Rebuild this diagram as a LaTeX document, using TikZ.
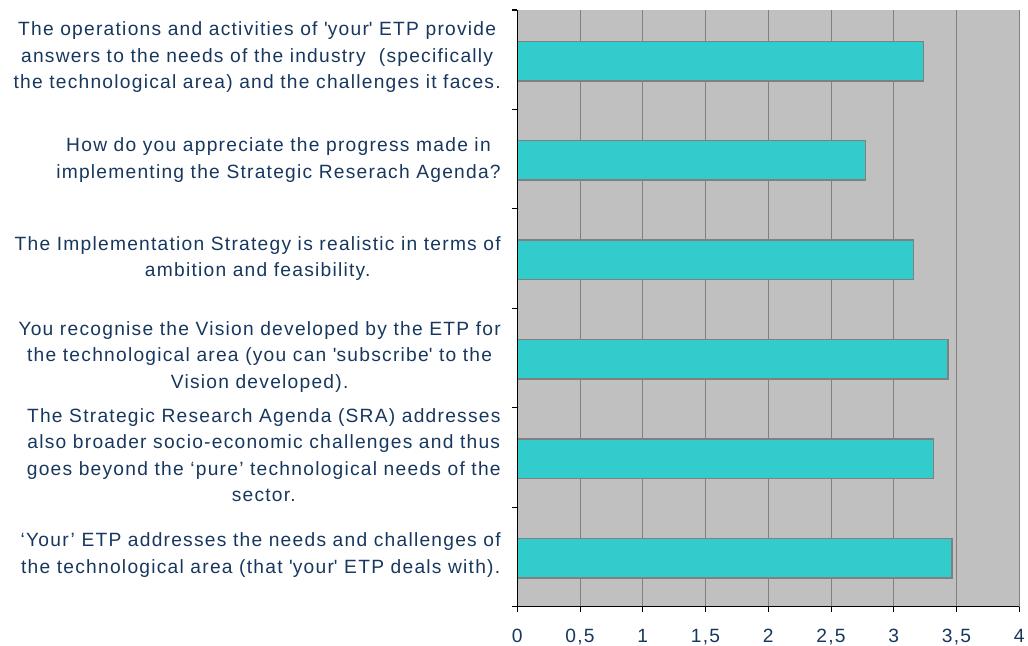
\documentclass[tikz,border=0pt]{standalone}
\usepackage{fontspec}
\setmainfont{Liberation Sans}[LetterSpace=6.5]
\usepackage{xcolor}
\usepackage{tikz}

\definecolor{plotgray}{RGB}{192,192,192}
\definecolor{gridgray}{RGB}{128,128,128}
\definecolor{barteal}{RGB}{51,204,204}
\definecolor{labelblue}{RGB}{23,55,94}

\newcommand{\sq}{\textquotesingle}

\begin{document}
\begin{tikzpicture}[
  x=0.75pt, y=-0.75pt,
  bar/.style={draw=gridgray,line width=1.1pt,fill=barteal},
  grid line/.style={draw=gridgray,line width=0.8pt},
  axis line/.style={draw=black,line width=0.8pt},
  question/.style={anchor=east,align=center,text=labelblue,inner sep=0pt,
    font=\fontsize{14.4}{19.9}\selectfont},
  tick label/.style={anchor=base,text=labelblue,inner sep=0pt,
    font=\fontsize{14.4}{16}\selectfont}
  ]

\useasboundingbox (0,0) rectangle (1028,646);

% plot area
\fill[plotgray] (517.3,10) rectangle (1019.3,606.7);
\foreach \v in {0.5,1,...,4}
  \draw[grid line] ({517.3+125.5*\v},10) -- ({517.3+125.5*\v},606.7);

% bars
\foreach \top/\val in {41.3/3.238, 140.7/2.776, 240/3.159, 339.3/3.432, 439/3.318, 538.7/3.464}
  \draw[bar] (517.3,\top) rectangle ({517.3+125.5*\val},\top+39.5);

% axes
\draw[axis line] (517.3,10) -- (517.3,606.7) -- (1019.3,606.7);
\foreach \k in {0,...,6}
  \draw[axis line] (512,10+99.45*\k) -- (517.3,10+99.45*\k);
\foreach \v in {0,0.5,...,4}
  \draw[axis line] ({517.3+125.5*\v},606.7) -- ({517.3+125.5*\v},612);

% value labels
\foreach \v/\lab [count=\i] in {0/0, 0.5/{0,5}, 1/1, 1.5/{1,5}, 2/2, 2.5/{2,5}, 3/3, 3.5/{3,5}, 4/4}
  \node[tick label] (t\i) at ({517.3+125.5*\v},642.5) {\lab};

% questions
\node[question] (q1) at (501,57.5) {The operations and activities of \sq your\sq\ ETP provide\\
  answers to the needs of the industry \ (specifically\\
  the technological area) and the challenges it faces.};
\node[question] (q2) at (501,160) {How do you appreciate the progress made in\\
  implementing the Strategic Reserach Agenda?};
\node[question] (q3) at (501,258.5) {The Implementation Strategy is realistic in terms of\\
  ambition and feasibility.};
\node[question] (q4) at (501,357) {You recognise the Vision developed by the ETP for\\
  the technological area (you can \sq subscribe\sq\ to the\\
  Vision developed).};
\node[question] (q5) at (501,455) {The Strategic Research Agenda (SRA) addresses\\
  also broader socio-economic challenges and thus\\
  goes beyond the ‘pure’ technological needs of the\\
  sector.};
\node[question] (q6) at (501,555) {‘Your’ ETP addresses the needs and challenges of\\
  the technological area (that \sq your\sq\ ETP deals with).};

\end{tikzpicture}
\end{document}
